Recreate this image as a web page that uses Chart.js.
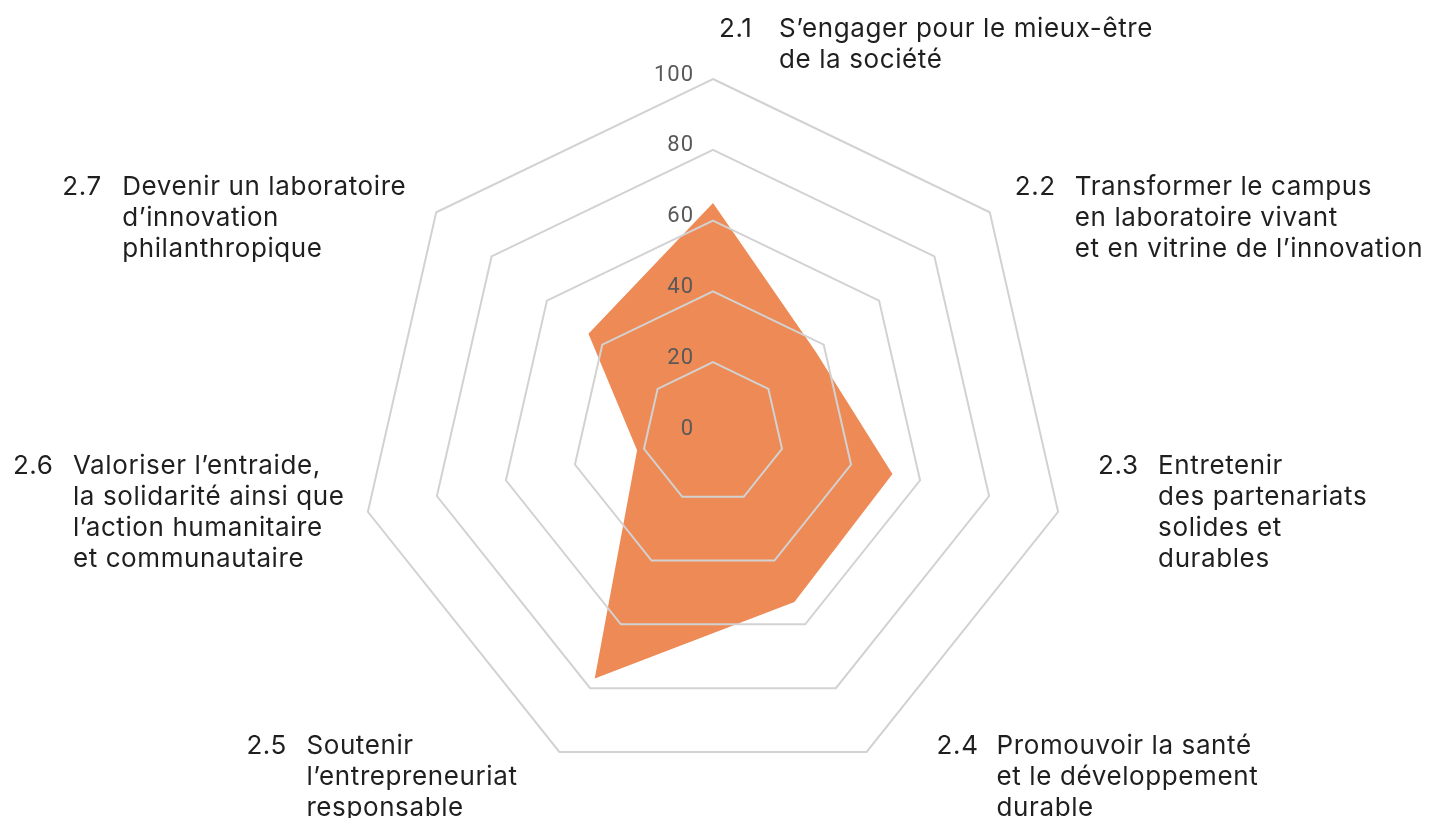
<!DOCTYPE html>
<html>
<head>
<meta charset="utf-8">
<script src="https://cdn.jsdelivr.net/npm/chart.js@4.4.1/dist/chart.umd.min.js"></script>
<style>
html,body{margin:0;padding:0;background:#fff;}
#wrap{width:1436px;height:818px;}
</style>
</head>
<body>
<div id="wrap"><canvas id="c" width="1436" height="818"></canvas></div>
<script>
// ---- data ----
const categories = ['2.1', '2.2', '2.3', '2.4', '2.5', '2.6', '2.7'];
const categoryText = [
  ['S\u2019engager pour le mieux-\u00eatre', 'de la soci\u00e9t\u00e9'],
  ['Transformer le campus', 'en laboratoire vivant', 'et en vitrine de l\u2019innovation'],
  ['Entretenir', 'des partenariats', 'solides et', 'durables'],
  ['Promouvoir la sant\u00e9', 'et le d\u00e9veloppement', 'durable'],
  ['Soutenir', 'l\u2019entrepreneuriat', 'responsable'],
  ['Valoriser l\u2019entraide,', 'la solidarit\u00e9 ainsi que', 'l\u2019action humanitaire', 'et communautaire'],
  ['Devenir un laboratoire', 'd\u2019innovation', 'philanthropique']
];
const values = [65, 37, 52, 53, 77, 22, 45];
const tickValues = [0, 20, 40, 60, 80, 100];

// ---- layout / style (kept separate from data) ----
const labelOffsets = [
  {dx: 6, dy: -50},
  {dx: 25, dy: -25},
  {dx: 40, dy: -46},
  {dx: 70, dy: -6},
  {dx: -313, dy: -6},
  {dx: -355, dy: -46},
  {dx: -374, dy: -25}
];
const LABEL_FONT = '26px Inter';
const LABEL_INDENT = 60;
const LINE_H = 31;

const labelPlugin = {
  id: 'labelPlugin',
  afterDraw(chart) {
    const s = chart.scales.r;
    const ctx = chart.ctx;
    ctx.save();
    // tick labels
    ctx.font = '22px Roboto';
    ctx.fillStyle = '#595959';
    ctx.textAlign = 'right';
    ctx.textBaseline = 'middle';
    try { ctx.letterSpacing = '1px'; } catch(e) {}
    s.ticks.forEach(t => {
      const d = s.getDistanceFromCenterForValue(t.value);
      ctx.fillText(t.label, s.xCenter - 19, s.yCenter - d - 4);
    });
    try { ctx.letterSpacing = '0.6px'; } catch(e) {}
    // point labels
    ctx.font = LABEL_FONT;
    ctx.fillStyle = '#1f1f1f';
    ctx.textAlign = 'left';
    chart.data.labels.forEach((lab, i) => {
      const p = s.getPointPosition(i, s.drawingArea);
      const x = p.x + labelOffsets[i].dx;
      const y = p.y + labelOffsets[i].dy;
      ctx.fillText(lab, x, y);
      categoryText[i].forEach((line, j) => {
        ctx.fillText(line, x + LABEL_INDENT, y + j * LINE_H);
      });
    });
    ctx.restore();
  }
};

new Chart(document.getElementById('c'), {
  type: 'radar',
  data: {
    labels: categories,
    datasets: [{
      data: values,
      backgroundColor: '#EE8A55',
      borderWidth: 0,
      pointRadius: 0,
      pointHoverRadius: 0,
      fill: true
    }]
  },
  options: {
    responsive: false,
    animation: false,
    events: [],
    layout: { padding: { top: 79, bottom: 30, left: 0, right: 10 } },
    plugins: { legend: { display: false }, tooltip: { enabled: false } },
    scales: {
      r: {
        min: tickValues[0],
        max: tickValues[tickValues.length - 1],
        angleLines: { display: false },
        grid: { color: '#d2d2d2', lineWidth: 2, z: 1 },
        pointLabels: { display: false },
        ticks: { display: false, stepSize: tickValues[1] - tickValues[0] }
      }
    }
  },
  plugins: [labelPlugin]
});
</script>
</body>
</html>
